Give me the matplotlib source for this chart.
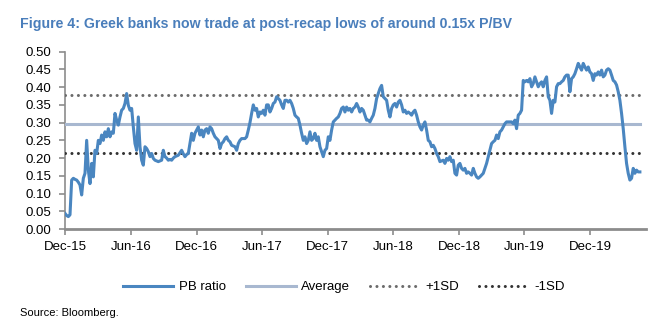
import matplotlib
matplotlib.use("Agg")
import matplotlib.pyplot as plt
import matplotlib.dates as mdates
import pandas as pd

plt.rcParams['font.family'] = ['Liberation Sans', 'DejaVu Sans']

# P/BV of Greek banks at an even spacing
pb_ratio = [
    # Dec-15 .. Apr-16
    0.044, 0.038, 0.035, 0.040, 0.138, 0.143, 0.140, 0.138, 0.132, 0.124,
    0.096, 0.143, 0.157, 0.250, 0.166, 0.128, 0.185, 0.147, 0.222, 0.213,
    0.250, 0.241, 0.265, 0.250, 0.274, 0.260, 0.283, 0.260, 0.274, 0.270,
    0.326, 0.307, 0.293, 0.316, 0.335, 0.340, 0.354, 0.382, 0.349, 0.335,
    0.340, 0.288, 0.241, 0.222, 0.316, 0.232, 0.194, 0.180, 0.232, 0.227,
    0.218, 0.204, 0.213, 0.199,
    # Aug-16 .. Mar-17
    0.194, 0.192, 0.190, 0.192, 0.194, 0.222, 0.204, 0.200, 0.194, 0.196,
    0.194, 0.200, 0.204, 0.206, 0.208, 0.215, 0.222, 0.212, 0.204, 0.210,
    0.213, 0.241, 0.270, 0.250, 0.270, 0.279, 0.288, 0.265, 0.279, 0.260,
    0.279, 0.283, 0.270, 0.288, 0.283, 0.270, 0.260, 0.255, 0.250, 0.227,
    0.241, 0.246, 0.255, 0.260, 0.250, 0.246, 0.236, 0.234, 0.232, 0.222,
    0.241, 0.250, 0.255, 0.255, 0.255, 0.260, 0.279,
    # Apr-17 .. Dec-17
    0.300, 0.326, 0.350, 0.335, 0.340, 0.316, 0.330, 0.326, 0.335, 0.321,
    0.350, 0.350, 0.330, 0.340, 0.354, 0.358, 0.373, 0.368, 0.363, 0.350,
    0.340, 0.363, 0.363, 0.358, 0.363, 0.354, 0.340, 0.321, 0.316, 0.312,
    0.293, 0.270, 0.250, 0.260, 0.241, 0.250, 0.274, 0.250, 0.255, 0.270,
    0.250, 0.260, 0.232, 0.218, 0.204, 0.222, 0.227, 0.260, 0.250, 0.279,
    0.302, 0.307, 0.312, 0.316, 0.326, 0.340, 0.344,
    # Jan-18 .. Sep-18
    0.330, 0.344, 0.335, 0.340, 0.330, 0.340, 0.344, 0.354, 0.344, 0.330,
    0.340, 0.335, 0.321, 0.307, 0.307, 0.302, 0.312, 0.321, 0.340, 0.368,
    0.382, 0.396, 0.405, 0.373, 0.368, 0.363, 0.335, 0.316, 0.340, 0.350,
    0.354, 0.344, 0.358, 0.363, 0.350, 0.330, 0.335, 0.326, 0.330, 0.326,
    0.321, 0.330, 0.335, 0.321, 0.302, 0.288, 0.279, 0.293, 0.302, 0.279,
    0.250, 0.246, 0.232, 0.236, 0.227, 0.213, 0.204,
    # Oct-18 .. Jun-19
    0.190, 0.192, 0.194, 0.185, 0.199, 0.194, 0.204, 0.190, 0.194, 0.157,
    0.152, 0.180, 0.185, 0.171, 0.166, 0.171, 0.157, 0.161, 0.157, 0.152,
    0.171, 0.157, 0.147, 0.143, 0.147, 0.152, 0.157, 0.171, 0.185, 0.204,
    0.222, 0.241, 0.246, 0.250, 0.265, 0.255, 0.274, 0.279, 0.288, 0.297,
    0.302, 0.302, 0.302, 0.302, 0.297, 0.307, 0.283, 0.321, 0.326, 0.335,
    0.419, 0.415, 0.419, 0.415, 0.424, 0.401, 0.410,
    # Jul-19 .. Apr-20
    0.429, 0.415, 0.401, 0.410, 0.415, 0.401, 0.419, 0.429, 0.373, 0.363,
    0.326, 0.363, 0.358, 0.401, 0.410, 0.410, 0.415, 0.419, 0.429, 0.434,
    0.434, 0.387, 0.424, 0.429, 0.438, 0.452, 0.467, 0.457, 0.448, 0.467,
    0.457, 0.448, 0.457, 0.443, 0.438, 0.419, 0.438, 0.434, 0.443, 0.434,
    0.448, 0.429, 0.434, 0.448, 0.452, 0.448, 0.434, 0.419, 0.415, 0.406,
    0.387, 0.363, 0.326, 0.283, 0.232, 0.185, 0.157, 0.138, 0.143, 0.171,
    0.157, 0.166, 0.161, 0.161,
]
start_date = '2015-12-01'
end_date = '2020-04-17'

average = 0.296
plus_1sd = 0.379
minus_1sd = 0.213

dates = pd.date_range(start_date, end_date, periods=len(pb_ratio))
n = len(dates)

fig = plt.figure(figsize=(6.66, 3.27), dpi=100)
ax = fig.add_axes([65 / 666, 1 - 229 / 327, 581 / 666, 177.3 / 327])

ax.plot(dates, pb_ratio, color='#4A86C0', lw=2.2, label='PB ratio', zorder=4)
ax.plot(dates, [average] * n, color='#A8B8D0', lw=2.2, label='Average', zorder=3)
ax.plot(dates, [plus_1sd] * n, color='#6B6B6B', lw=2.2, ls=(0, (0.01, 2.1)),
        dash_capstyle='round', label='+1SD', zorder=3)
ax.plot(dates, [minus_1sd] * n, color='#333333', lw=2.2, ls=(0, (0.01, 2.1)),
        dash_capstyle='round', label='-1SD', zorder=3)

ax.set_ylim(0, 0.5)
ax.set_yticks([i * 0.05 for i in range(11)])
ax.yaxis.set_major_formatter(plt.FormatStrFormatter('%.2f'))
ax.set_xlim(pd.Timestamp(start_date), pd.Timestamp('2020-05-04'))
ax.xaxis.set_major_locator(mdates.MonthLocator(bymonth=[6, 12]))
ax.xaxis.set_major_formatter(mdates.DateFormatter('%b-%y'))

for side in ['top', 'right']:
    ax.spines[side].set_visible(False)
ax.spines['left'].set_color('#8C8C8C')
ax.spines['left'].set_linewidth(1.2)
ax.spines['bottom'].set_color('#8C8C8C')
ax.spines['bottom'].set_linewidth(2.0)
ax.tick_params(axis='both', colors='#8C8C8C', labelcolor='black', labelsize=9.5,
               length=4, width=1.2)
ax.tick_params(axis='x', pad=5)
ax.tick_params(axis='y', pad=6)

fig.text(20 / 666, 1 - 24 / 327, 'Figure 4: Greek banks now trade at post-recap lows of around 0.15x P/BV',
         color='#4A7EBB', fontsize=10.2, fontweight='bold', va='center', ha='left')

fig.legend(loc='center', bbox_to_anchor=(344 / 666, 1 - 287 / 327), ncol=4,
           frameon=False, fontsize=9.5, handlelength=3.8, handletextpad=0.4,
           columnspacing=1.5)

fig.text(20 / 666, 1 - 313 / 327, 'Source: Bloomberg.', fontsize=8, va='center', ha='left')

fig.savefig('out.png', dpi=100)
